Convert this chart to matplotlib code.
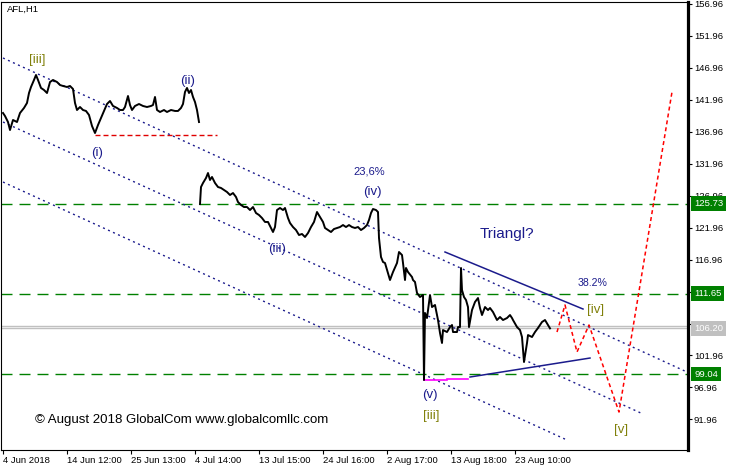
import matplotlib
matplotlib.use("Agg")
import matplotlib.pyplot as plt
from matplotlib.transforms import blended_transform_factory

plt.rcParams['lines.scale_dashes'] = False

# ---------------- data ----------------
symbol = "AFL,H1"

# price path, first block (bar index, close)
bars_a = [3, 5, 8, 10, 13, 17, 20, 24, 27, 29, 31, 34, 36, 38, 41, 44, 47, 50, 53, 57,
          60, 63, 67, 70, 73, 75, 77, 80, 83, 86, 89, 92, 95, 98, 101, 104, 107, 110, 113, 117,
          120, 123, 125, 128, 130, 132, 135, 139, 143, 147, 151, 153, 155, 157, 160, 164, 167, 171, 175, 178,
          181, 183, 185, 187, 189, 191, 193, 195, 197, 199]
close_a = [139.90, 139.43, 138.49, 137.24, 138.81, 138.49, 139.90, 140.69, 141.47, 143.03,
           143.97, 145.07, 145.85, 145.07, 143.82, 143.50, 143.03, 144.75, 145.07, 144.75,
           144.28, 144.13, 143.97, 144.13, 143.66, 141.47, 140.37, 140.84, 140.37, 140.22,
           139.59, 137.87, 136.77, 138.02, 139.12, 140.22, 141.31, 141.78, 141.00, 140.69,
           140.37, 140.37, 140.84, 142.56, 141.15, 140.37, 141.00, 141.31, 141.00, 140.84,
           141.00, 141.15, 142.41, 140.37, 140.06, 140.37, 140.06, 140.37, 140.22, 140.22,
           140.69, 141.31, 143.19, 143.82, 143.03, 143.50, 142.41, 141.62, 140.37, 138.49]

# price path, second block after the gap
bars_b = [200, 201, 203, 206, 208, 210, 212, 215, 218, 221, 224, 227, 230, 233, 236, 238, 241, 244, 247, 250,
          253, 256, 259, 262, 265, 268, 271, 273, 275, 277, 280, 283, 285, 288, 290, 293, 296, 299, 302, 305,
          308, 311, 314, 317, 320, 323, 325, 328, 331, 334, 337, 340, 343, 346, 349, 352, 355, 358, 361, 364,
          367, 369, 371, 373, 376, 378, 379, 381, 383, 385, 388, 390, 393, 397, 399, 402, 403, 405, 406, 408,
          412, 413, 415, 417, 420, 423, 424, 425, 427, 430, 432, 435, 438, 440, 442, 443, 447, 450, 452, 453,
          457, 458, 460, 461, 462, 464, 466, 468, 469, 472, 475, 478, 480, 482, 485, 488, 490, 493, 497, 500,
          503, 507, 510, 512, 513, 517, 520, 522, 524, 527, 528, 532, 535, 538, 542, 545, 548, 550]
close_b = [125.66, 128.32, 128.95, 129.73, 130.51, 129.42, 129.89, 128.95, 128.32, 128.17,
           127.85, 127.54, 127.07, 127.38, 126.76, 125.97, 125.51, 125.19, 125.19, 124.72,
           125.19, 124.25, 123.94, 123.47, 122.85, 122.85, 121.91, 121.28, 122.06, 124.72,
           125.04, 124.72, 125.04, 123.47, 122.69, 122.06, 121.59, 120.81, 120.97, 120.50,
           121.12, 122.06, 122.85, 124.41, 123.63, 122.85, 121.91, 121.59, 121.28, 121.75,
           121.91, 122.06, 122.37, 122.06, 122.37, 122.06, 121.91, 122.06, 121.59, 121.91,
           122.37, 123.16, 124.25, 124.88, 124.72, 124.41, 120.34, 117.37, 116.59, 116.43,
           114.87, 113.77, 115.02, 116.43, 118.15, 117.68, 116.43, 113.77, 115.65, 115.02,
           114.24, 113.77, 113.46, 111.74, 111.11, 111.42, 98.12, 108.61, 107.82, 111.42,
           109.54, 109.86, 107.51, 105.48, 103.91, 105.94, 105.63, 106.41, 106.73, 105.63,
           105.63, 106.41, 106.41, 115.65, 112.20, 111.11, 110.64, 109.54, 106.41, 109.07,
           110.33, 110.95, 109.39, 108.29, 109.54, 109.07, 109.39, 108.76, 107.51, 107.98,
           107.51, 107.82, 108.29, 107.82, 107.51, 106.41, 105.94, 104.85, 100.94, 103.91,
           105.16, 104.85, 105.63, 106.26, 107.20, 107.51, 106.73, 106.20]

# horizontal levels
green_levels = [125.73, 111.65, 99.04]
bid_ask = [106.20, 106.50]
wave_i_level = 136.46
wave_i_span = [95, 217]

# channel lines (bar, price) end points
chan_upper = ([3, 687], [148.51, 99.37])
chan_mid = ([3, 643], [138.49, 92.80])
chan_low = ([3, 567], [129.10, 88.73])
tri_upper = ([445, 583], [118.15, 109.23])
tri_lower = ([470, 590], [98.59, 101.56])
magenta_a = ([424, 447], [98.12, 98.12])
magenta_b = ([447, 468], [98.28, 98.28])

# forecast path
fc_bars = [557, 565, 577, 589, 619, 672]
fc_price = [105.63, 109.86, 102.50, 106.73, 93.11, 143.19]

ytick_vals = [91.96, 96.96, 101.96, 106.96, 111.96, 116.96, 121.96, 126.96,
              131.96, 136.96, 141.96, 146.96, 151.96, 156.96]
# labels hidden behind the price boxes in the reference
ytick_hidden = [106.96, 111.96]
xtick_bars = [2.7, 66.7, 130.7, 194.7, 258.7, 322.7, 386.7, 450.7, 514.7]
xtick_labels = ["4 Jun 2018", "14 Jun 12:00", "25 Jun 13:00", "4 Jul 14:00", "13 Jul 15:00",
                "24 Jul 16:00", "2 Aug 17:00", "13 Aug 18:00", "23 Aug 10:00"]

# wave labels: (text, bar, price, colour key, size)
wave_labels = [
    ("[iii]", 37, 148.20, "olive", 9.5),
    ("(ii)", 188, 144.91, "navy", 9.5),
    ("(i)", 97, 133.64, "navy", 9.5),
    ("23,6%", 369, 130.82, "navy", 8),
    ("(iv)", 372, 127.54, "navy", 9.5),
    ("(iii)", 277, 118.62, "navy", 9.5),
    ("Triangl?", 507, 120.97, "navy", 11),
    ("38.2%", 593, 113.30, "navy", 7.6),
    ("[iv]", 596, 109.07, "olive", 9.5),
    ("(v)", 430, 95.77, "navy", 9.5),
    ("[iii]", 431, 92.49, "olive", 9.5),
    ("[v]", 621, 90.30, "olive", 9.5),
]
copyright_text = "\u00a9 August 2018 GlobalCom www.globalcomllc.com"

# ---------------- drawing ----------------
NAVY = "#1b1b8c"
OLIVE = "#80800a"
GREEN = "#008000"
colors = {"navy": NAVY, "olive": OLIVE}

W, H = 732, 468
fig = plt.figure(figsize=(W / 100, H / 100), dpi=100)
ax = fig.add_axes([0.5 / W, 18 / H, 687.5 / W, 448 / H])
ax.set_xlim(0.5, 688)
ax.set_ylim(87.17, 157.27)

px = 0.72  # points per pixel

# levels
for lv in green_levels:
    ax.axhline(lv, color=GREEN, lw=1.0, dashes=(11 * px, 7 * px), zorder=2)
for lv in bid_ask:
    ax.axhline(lv, color="#c0c0c0", lw=1.0, zorder=2)
ax.plot(wave_i_span, [wave_i_level] * 2, color="#e00000", lw=1.0,
        dashes=(5 * px, 3 * px), zorder=2)

# channel lines
for xs, ys in (chan_upper, chan_mid, chan_low):
    ax.plot(xs, ys, color=NAVY, lw=1.0, dashes=(2 * px, 3.5 * px), zorder=2)
for xs, ys in (tri_upper, tri_lower):
    ax.plot(xs, ys, color=NAVY, lw=1.1, zorder=3)
for xs, ys in (magenta_a, magenta_b):
    ax.plot(xs, ys, color="#ff00ff", lw=1.2, zorder=3)

# price
ax.plot(bars_a, close_a, color="black", lw=1.4, zorder=4)
ax.plot(bars_b, close_b, color="black", lw=1.4, zorder=4)

# forecast
ax.plot(fc_bars, fc_price, color="#ff0000", lw=1.1, dashes=(4 * px, 3 * px), zorder=4)

# labels
for txt, xb, yp, ck, fs in wave_labels:
    ax.text(xb, yp, txt, color=colors[ck], fontsize=fs, ha="center", va="center",
            family="Liberation Sans", zorder=6)

ax.text(35, 91.90, copyright_text, fontsize=9.5, family="Liberation Sans",
        ha="left", va="center", color="black", zorder=6)
ax.text(7, 156.05, symbol, fontsize=6.8, family="Liberation Sans",
        ha="left", va="center", color="black", zorder=6)

# axes style
ax.yaxis.tick_right()
ax.set_yticks(ytick_vals)
ax.set_yticklabels(["" if v in ytick_hidden else f"{v:.2f}" for v in ytick_vals])
ax.set_xticks(xtick_bars)
ax.set_xticklabels(xtick_labels)
for lab in ax.get_xticklabels():
    lab.set_horizontalalignment("left")
ax.tick_params(axis="y", direction="out", length=3, width=0.8, pad=1.2,
               labelsize=6.8, labelfontfamily="Liberation Sans")
ax.tick_params(axis="x", direction="out", length=3, width=0.8, pad=1.5,
               labelsize=6.8, labelfontfamily="Liberation Sans")
for s in ("left", "top", "bottom"):
    ax.spines[s].set_linewidth(0.8)
ax.spines["right"].set_linewidth(2.3)

# price boxes on the right scale
tr = blended_transform_factory(ax.transAxes, ax.transData)
boxes = [(green_levels[0], GREEN), (green_levels[1], GREEN),
         (green_levels[2], GREEN), (bid_ask[0], "#c0c0c0")]
for val, fc in boxes:
    ax.annotate(f"{val:.2f}", xy=(1.0, val), xycoords=tr, xytext=(4.4, 0),
                textcoords="offset points", ha="left", va="center",
                color="white", fontsize=6.8, family="Liberation Sans",
                bbox=dict(boxstyle="square,pad=0.3", fc=fc, ec="none"),
                zorder=10, annotation_clip=False)

fig.savefig("out.png", dpi=100)
